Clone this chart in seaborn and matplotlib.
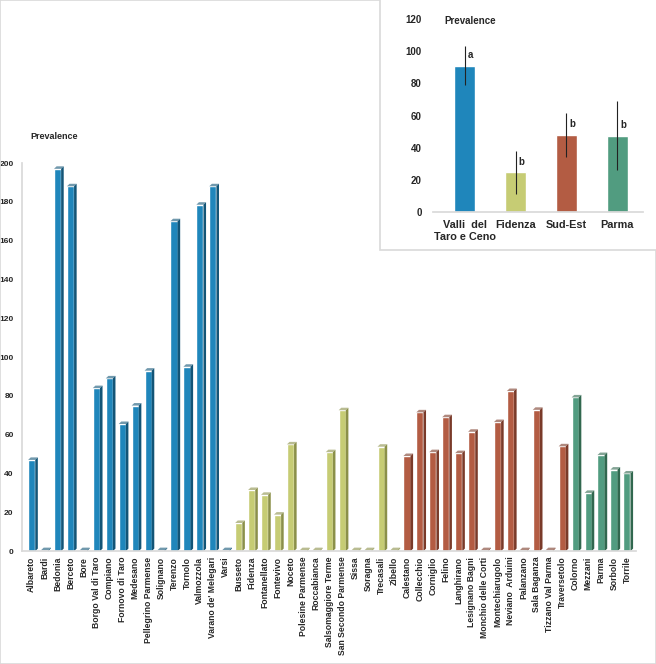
import numpy as np
import pandas as pd
import seaborn as sns
import matplotlib.pyplot as plt
from matplotlib.patches import Polygon, Rectangle

# municipalities grouped by district
valli = ["Albareto", "Bardi", "Bedonia", "Berceto", "Bore", "Borgo Val di Taro", "Compiano",
         "Fornovo di Taro", "Medesano", "Pellegrino Parmense", "Solignano", "Terenzo", "Tornolo",
         "Valmozzola", "Varano de' Melegari", "Varsi"]
valli_vals = [47, 0.5, 197, 188, 0.5, 84, 89, 65.5, 75, 93, 0.5, 170, 95, 178.5, 188, 0.5]

fidenza = ["Busseto", "Fidenza", "Fontanellato", "Fontevivo", "Noceto", "Polesine Parmense",
           "Roccabianca", "Salsomaggiore Terme", "San Secondo Parmense", "Sissa", "Soragna",
           "Trecasali", "Zibello"]
fidenza_vals = [14.5, 31.5, 29, 18.8, 55, 0.5, 0.5, 51, 72.6, 0.5, 0.5, 53.8, 0.5]

sudest = ["Calestano", "Collecchio", "Corniglio", "Felino", "Langhirano", "Lesignano Bagni",
          "Monchio delle Corti", "Montechiarugolo", "Neviano  Arduini", "Palanzano", "Sala Baganza",
          "Tizzano Val Parma", "Traversetolo"]
sudest_vals = [49, 71.5, 51, 69, 50.5, 61.5, 0.5, 66.5, 82.5, 0.5, 72.8, 0.5, 54]

parma = ["Colorno", "Mezzani", "Parma", "Sorbolo", "Torrile"]
parma_vals = [79.2, 30, 49.5, 42, 40]

districts = ["Valli  del\nTaro e Ceno", "Fidenza", "Sud-Est", "Parma"]
district_means = [91, 24.6, 47.8, 47.4]
district_err = [12.2, 13.3, 13.5, 21.5]
district_letters = ["a", "b", "b", "b"]

colors = ["#1f86bb", "#c6cc74", "#b35c43", "#519c80"]
side_colors = ["#135577", "#8b9049", "#7a3a29", "#31684f"]

df = pd.DataFrame({
    "town": valli + fidenza + sudest + parma,
    "value": valli_vals + fidenza_vals + sudest_vals + parma_vals,
    "district": ["v"] * len(valli) + ["f"] * len(fidenza) + ["s"] * len(sudest) + ["p"] * len(parma),
})
pal = dict(zip(["v", "f", "s", "p"], colors))
side_pal = dict(zip(["v", "f", "s", "p"], side_colors))

sns.set_theme(style="white")
plt.rcParams["font.family"] = ["Liberation Sans", "DejaVu Sans"]

fig = plt.figure(figsize=(6.56, 6.64), dpi=100)
fig.patches.append(Rectangle((0, 0), 1, 1, transform=fig.transFigure, fill=False,
                             edgecolor="#d9d9d9", lw=1.2, zorder=0))

ax = fig.add_axes([0.0335, 0.170, 0.936, 0.5845])
sns.barplot(data=df, x="town", y="value", hue="district", palette=pal, width=0.55,
            dodge=False, legend=False, saturation=1, ax=ax)

# fake 3d: side and top faces from each bar's own geometry
dx, dy = 0.2, 1.3
bar_districts = list(df["district"])
bars = [p for p in ax.patches if p.get_width() > 0]
bars.sort(key=lambda p: p.get_x())
for p, d in zip(bars, bar_districts):
    x0, w, h = p.get_x(), p.get_width(), p.get_height()
    side = Polygon([(x0 + w, 0), (x0 + w + dx, dy), (x0 + w + dx, h + dy), (x0 + w, h)],
                   closed=True, facecolor=side_pal[d], edgecolor="none", zorder=p.get_zorder())
    top = Polygon([(x0, h), (x0 + dx, h + dy), (x0 + w + dx, h + dy), (x0 + w, h)],
                  closed=True, facecolor=side_pal[d], alpha=0.6, edgecolor="none", zorder=p.get_zorder())
    ax.add_patch(side)
    ax.add_patch(top)

ax.set_xlim(-0.75, len(df) - 0.3)
ax.set_ylim(0, 200)
ax.set_yticks(np.arange(0, 201, 20))
ax.set_xlabel("")
ax.set_ylabel("")
ax.tick_params(axis="x", rotation=90, labelsize=6.2, length=0, pad=4)
ax.tick_params(axis="y", labelsize=6, length=0, pad=6)
for lab in ax.get_xticklabels() + ax.get_yticklabels():
    lab.set_fontweight("bold")
sns.despine(ax=ax, top=True, right=True)
ax.spines["left"].set_color("#d9d9d9")
ax.spines["bottom"].set_color("#d9d9d9")
ax.patch.set_alpha(0)
fig.text(0.046, 0.795, "Prevalence", fontsize=6.5, fontweight="bold", va="center")

# inset panel
fig.patches.append(Rectangle((0.579, 0.623), 0.5, 0.5, transform=fig.transFigure, facecolor="white",
                             edgecolor="#d9d9d9", lw=1.2, zorder=2))
ax2 = fig.add_axes([0.660, 0.6807, 0.32, 0.2907], zorder=3)
sns.barplot(x=districts, y=district_means, hue=districts, palette=colors, width=0.4,
            saturation=1, legend=False, ax=ax2)
ax2.errorbar(range(len(districts)), district_means, yerr=district_err, fmt="none",
             ecolor="#222222", elinewidth=0.8, capsize=0)
for i, (m, t) in enumerate(zip(district_means, district_letters)):
    ax2.text(i + 0.06, m + 3.5, t, fontsize=7, fontweight="bold", ha="left", va="bottom")
ax2.set_ylim(0, 120)
ax2.set_xlim(-0.62, 3.5)
ax2.set_yticks(np.arange(0, 121, 20))
ax2.tick_params(axis="x", labelsize=7.8, length=0, pad=6)
ax2.tick_params(axis="y", labelsize=7, length=0, pad=8)
for lab in ax2.get_xticklabels() + ax2.get_yticklabels():
    lab.set_fontweight("bold")
sns.despine(ax=ax2, left=True)
ax2.spines["bottom"].set_color("#d9d9d9")
ax2.patch.set_alpha(0)
fig.text(0.677, 0.968, "Prevalence", fontsize=7, fontweight="bold", va="center")

fig.savefig("out.png", dpi=100)
